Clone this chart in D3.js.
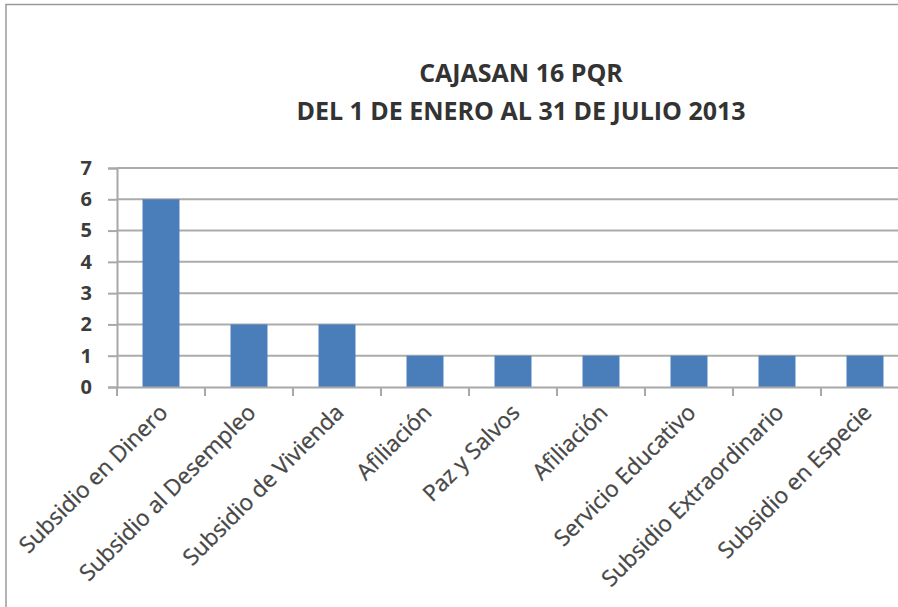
<!DOCTYPE html>
<html>
<head>
<meta charset="utf-8">
<script src="https://cdn.jsdelivr.net/npm/d3@7"></script>
<style>
  body { margin: 0; background: #fff; }
  svg { display: block; }
</style>
</head>
<body>
<svg id="chart" width="898" height="607"></svg>
<script>
// Data
var categories = ['Subsidio en Dinero', 'Subsidio al Desempleo', 'Subsidio de Vivienda', 'Afiliación',
  'Paz y Salvos', 'Afiliación', 'Servicio Educativo', 'Subsidio Extraordinario', 'Subsidio en Especie'];
var values = [6, 2, 2, 1, 1, 1, 1, 1, 1];
var yTicks = [0, 1, 2, 3, 4, 5, 6, 7];
var titleLines = ['CAJASAN 16 PQR', 'DEL 1 DE ENERO AL 31 DE JULIO 2013'];

var svg = d3.select('#chart');
var plotLeft = 117, plotRight = 909, plotTop = 168, plotBottom = 387;
var font = '"Open Sans", Lato, sans-serif';

// chart frame (cropped at right and bottom)
svg.append('path').attr('d', 'M6,607 L6,4.5 L898,4.5')
  .attr('fill', 'none').attr('stroke', '#9a9a9a').attr('stroke-width', 1.5);

var idx = d3.range(categories.length);
var xb = d3.scaleBand().domain(idx).range([plotLeft, plotRight]);
var x = d3.scaleBand().domain(idx).range([plotLeft, plotRight]).paddingInner(0.58).paddingOuter(0.29);
var y = d3.scaleLinear().domain([0, 7]).range([plotBottom, plotTop]);

// gridlines
svg.append('g').selectAll('line').data(yTicks.filter(d => d > 0)).join('line')
  .attr('x1', plotLeft).attr('x2', plotRight)
  .attr('y1', d => y(d)).attr('y2', d => y(d))
  .attr('stroke', '#ababab').attr('stroke-width', 2);

// bars
svg.append('g').selectAll('rect').data(values).join('rect')
  .attr('x', (d, i) => x(i)).attr('width', x.bandwidth())
  .attr('y', d => y(d)).attr('height', d => y(0) - y(d))
  .attr('fill', '#4a7ebb');

// y axis
var yAxis = svg.append('g').attr('transform', 'translate(' + plotLeft + ',0)')
  .call(d3.axisLeft(y).tickValues(yTicks).tickSize(9).tickPadding(16).tickFormat(d3.format('d')));
yAxis.select('.domain').attr('stroke', '#a8a8a8').attr('stroke-width', 2);
yAxis.selectAll('.tick line').attr('stroke', '#a8a8a8').attr('stroke-width', 2);
yAxis.selectAll('text').attr('font-family', font).attr('font-weight', 'bold')
  .attr('font-size', 20).attr('fill', '#3c3c3c');

// x axis
var xAxis = svg.append('g').attr('transform', 'translate(0,' + plotBottom + ')')
  .call(d3.axisBottom(xb).tickSize(0).tickFormat(''));
xAxis.select('.domain').attr('stroke', '#a8a8a8').attr('stroke-width', 2);
xAxis.selectAll('.tick').remove();
svg.append('g').selectAll('line').data(d3.range(categories.length + 1)).join('line')
  .attr('x1', i => plotLeft + i * xb.step()).attr('x2', i => plotLeft + i * xb.step())
  .attr('y1', plotBottom).attr('y2', plotBottom + 9)
  .attr('stroke', '#a8a8a8').attr('stroke-width', 2);

// x labels
svg.append('g').selectAll('text').data(categories).join('text')
  .attr('transform', (d, i) => 'translate(' + (xb(i) + xb.bandwidth() / 2 + 8) + ',' + (plotBottom + 27) + ') rotate(-45)')
  .attr('text-anchor', 'end')
  .attr('font-family', font)
  .attr('font-size', 22.5).attr('fill', '#474747')
  .attr('stroke', '#474747').attr('stroke-width', 0.3)
  .text(d => d);

// title
svg.append('g').selectAll('text').data(titleLines).join('text')
  .attr('x', 521).attr('y', (d, i) => 82 + i * 38)
  .attr('text-anchor', 'middle')
  .attr('font-family', font).attr('font-weight', 'bold')
  .attr('font-size', 25).attr('fill', '#333')
  .text(d => d);
</script>
</body>
</html>
